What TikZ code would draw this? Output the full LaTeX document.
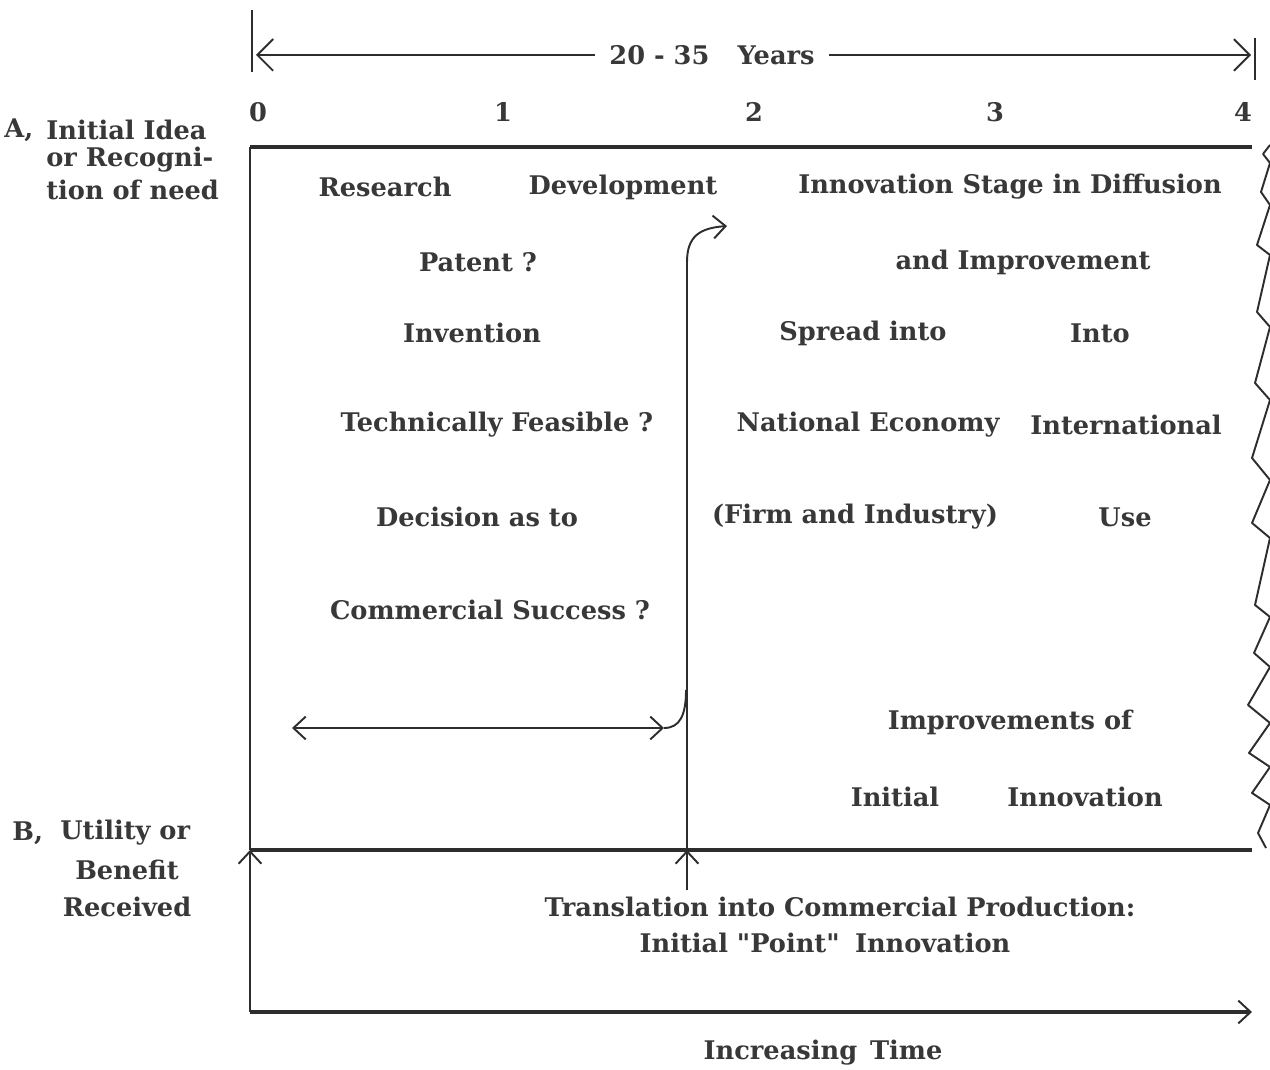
\documentclass[tikz,border=0pt]{standalone}
\usepackage{fontspec}
\setmainfont{DejaVu Serif}[BoldFont={DejaVu Serif Bold}]
\usetikzlibrary{arrows.meta}
\definecolor{ink}{gray}{0.22}
\begin{document}
\begin{tikzpicture}[x=0.02cm,y=-0.02cm,
  txt/.style={inner sep=0pt,text=ink,font=\fontsize{14.6}{17}\selectfont\bfseries},
  thin/.style={line width=1.1pt,draw=ink!80!black},
  thick/.style={line width=1.8pt,draw=ink!80!black},
  bigtip/.style={-{Straight Barb[length=9pt,width=18pt,line width=1.1pt]}},
  tip/.style={-{Straight Barb[length=7pt,width=13pt,line width=1.1pt]}},
  tips/.style={{Straight Barb[length=7pt,width=13pt,line width=1.1pt]}-{Straight Barb[length=7pt,width=13pt,line width=1.1pt]}}]
\useasboundingbox (0,0) rectangle (1270,1070);
% coordinates
\coordinate (tl) at (250,147);
\coordinate (tr) at (1252,147);
\coordinate (bl) at (250,850);
\coordinate (br) at (1252,850);
\coordinate (ol) at (250,1012);
\coordinate (or) at (1252,1012);
\coordinate (vb) at (687,890);
\coordinate (vB) at (687,850);
\coordinate (vt) at (687,262);
\coordinate (vtip) at (727,226);
\coordinate (hl) at (292,728);
\coordinate (hr) at (664,728);
\coordinate (hj) at (686,690);
\coordinate (tkl1) at (252,10);
\coordinate (tkl2) at (252,72);
\coordinate (tkr1) at (1255,38);
\coordinate (tkr2) at (1255,80);
\coordinate (al) at (256,55);
\coordinate (ar) at (1251,55);
% top span
\node[txt] (span) at (712,55) {20 - 35\hspace{1.1em}Years};
\draw[thin] (tkl1) -- (tkl2);
\draw[thin] (tkr1) -- (tkr2);
\draw[thin,bigtip] ([xshift=-8]span.west) -- (al);
\draw[thin,bigtip] ([xshift=8]span.east) -- (ar);
% scale numbers
\node[txt] (n0) at (258,112) {0};
\node[txt] (n1) at (503,112) {1};
\node[txt] (n2) at (754,112) {2};
\node[txt] (n3) at (995,112) {3};
\node[txt] (n4) at (1243,112) {4};
% frame
\draw[thick] (tl) -- (tr);
\draw[thick] (bl) -- (br);
\draw[thick,tip] (ol) -- (or);
\draw[thin] (bl) -- (tl);
\draw[thin,tip] (ol) -- (bl);
% zigzag
\draw[thin,line join=round] (1270,145) -- (1263,154) -- (1270,163) -- (1261,192) -- (1270,205)
  -- (1257,245) -- (1270,255) -- (1257,312) -- (1270,327) -- (1255,383) -- (1270,400)
  -- (1252,458) -- (1270,480) -- (1252,523) -- (1270,538) -- (1255,605) -- (1270,617)
  -- (1254,653) -- (1270,667) -- (1248,705) -- (1270,723) -- (1249,753) -- (1270,767)
  -- (1252,793) -- (1270,805) -- (1258,833) -- (1266,848);
% translation arrow
\draw[thin,tip] (vb) -- (vB);
\draw[thin,tip] (vB) -- (vt) .. controls (687,236) and (700,228) .. (vtip);
% double arrow
\draw[thin,tips] (hl) -- (hr);
\draw[thin] (hr) .. controls (680,728) and (686,715) .. (hj);
% left labels
\node[txt,anchor=west] (a0) at (4,130) {A,};
\node[txt,anchor=west] (a1) at (46,130) {Initial Idea};
\node[txt,anchor=west] (a2) at (46,160) {or Recogni-};
\node[txt,anchor=west] (a3) at (46,190) {tion of need};
\node[txt,anchor=west] (b0) at (12,833) {B,};
\node[txt,anchor=west] (b1) at (60,833) {Utility or};
\node[txt] (b2) at (127,870) {Benefit};
\node[txt] (b3) at (127,907) {Received};
% inner texts
\node[txt] (t1) at (385,187) {Research};
\node[txt] (t2) at (623,187) {Development};
\node[txt] (t3) at (1010,187) {Innovation Stage in Diffusion};
\node[txt] (t4) at (478,262) {Patent ?};
\node[txt] (t5) at (1023,262) {and Improvement};
\node[txt] (t6) at (472,333) {Invention};
\node[txt] (t7) at (863,333) {Spread into};
\node[txt] (t8) at (1100,333) {Into};
\node[txt] (t9) at (497,425) {Technically Feasible ?};
\node[txt] (t10) at (868,425) {National Economy};
\node[txt] (t11) at (1126,425) {International};
\node[txt] (t12) at (477,517) {Decision as to};
\node[txt] (t13) at (855,517) {(Firm and Industry)};
\node[txt] (t14) at (1125,517) {Use};
\node[txt] (t15) at (490,610) {Commercial Success ?};
\node[txt] (t16) at (1010,722) {Improvements of};
\node[txt] (t17) at (895,797) {Initial};
\node[txt] (t18) at (1085,797) {Innovation};
\node[txt] (t19) at (840,907) {Translation into Commercial Production:};
\node[txt] (t20) at (825,943) {Initial \textquotedbl Point\textquotedbl\hspace{0.6em}Innovation};
\node[txt] (t21) at (823,1053) {Increasing\hspace{0.5em}Time};
\end{tikzpicture}
\end{document}
